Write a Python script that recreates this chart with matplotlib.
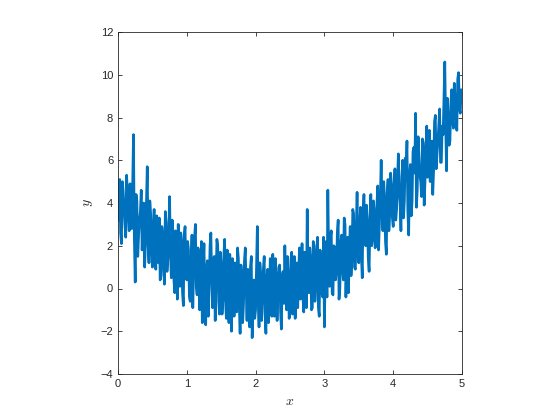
import numpy as np
import matplotlib
matplotlib.use('Agg')
import matplotlib.pyplot as plt

# y values at x = 0, 0.025, ..., 5 (10 per 0.25 step)
y_main = [3.2, 5.1, 2.1, 4.6, 3.0, 5.3, 3.4, 4.9, 2.8, 7.2,
          0.3, 4.1, 2.5, 3.6, 1.8, 4.0, 2.2, 5.7, 1.2, 3.5,
          1.0, 3.7, 0.9, 2.8, 3.3, 0.6, 2.5, 0.2, 3.1, 1.4,
          4.3, 0.5, 2.6, -0.2, 1.9, 3.0, 0.1, 2.2, -0.8, 2.9,
          0.4, 1.8, -0.6, 2.5, 0.9, 3.0, -0.3, 1.6, 0.2, -1.6,
          2.1, -1.7, 1.3, 0.0, 2.6, -0.9, 1.5, 0.3, 2.0, -1.2,
          1.1, -0.5, 2.3, -1.4, 0.8, 1.6, -2.0, 0.6, 1.2, -1.1,
          1.4, -2.1, 0.5, -0.7, 1.9, -1.5, 0.2, 1.0, -2.3, 0.4,
          -1.0, 2.9, -1.8, 0.6, -0.4, 1.5, -2.1, 0.9, -0.9, 0.2,
          1.6, -1.3, 0.4, -0.2, 1.1, -1.9, 0.8, 2.0, -1.0, 0.5,
          -0.8, 1.7, 0.1, -1.4, 1.2, 0.6, -0.5, 2.1, -1.1, 1.0,
          3.7, -0.2, 1.4, -0.9, 2.0, 0.3, 2.4, -1.3, 1.1, -0.4,
          -1.8, 2.2, 4.6, 0.1, 2.7, -0.3, 1.9, 0.8, 3.2, 0.0,
          2.5, 0.4, 3.0, 1.2, -0.2, 2.9, 1.4, 3.5, 0.9, 4.5,
          1.2, 3.8, 0.5, 4.4, 2.0, 3.3, 0.8, 4.4, 2.3, 3.6,
          2.4, 4.8, 3.0, 6.0, 2.7, 4.2, 1.6, 5.1, 3.5, 4.9,
          2.9, 5.6, 3.7, 6.3, 4.0, 5.2, 3.3, 6.1, 6.9, 2.5,
          5.8, 4.1, 6.6, 8.2, 4.6, 6.2, 5.0, 7.0, 3.9, 6.5,
          5.2, 7.4, 6.1, 4.4, 7.8, 5.6, 6.9, 8.4, 5.9, 7.2,
          10.6, 5.5, 8.0, 6.9, 9.3, 7.5, 8.8, 7.4, 10.1, 8.2,
          8.7]

# y values read at the in-between samples x = 0.0125, 0.0375, ..., 4.9875
y_mid = [4.4, 2.6, 5.0, 3.8, 2.4, 4.5, 2.7, 3.9, 4.8, 2.3,
         4.4, 1.5, 3.2, 4.6, 2.8, 1.0, 3.9, 2.0, 4.1, 1.7,
         3.0, 1.7, 3.4, 1.2, 0.4, 2.9, 1.1, 3.6, 0.8, 2.6,
         1.6, 3.2, 0.4, 2.7, -0.5, 1.3, 2.6, -0.2, 2.5, 0.6,
         2.2, -0.4, 1.2, -0.9, 2.4, 0.1, 1.9, -1.0, 2.2, 1.0,
         -0.6, 1.0, -1.3, 2.0, 0.5, 1.4, -1.5, 2.3, -0.6, 1.7,
         -1.2, 1.5, -0.6, 1.8, -1.6, 0.0, 1.4, -1.3, 0.1, 1.9,
         -0.8, 1.1, -1.6, 1.3, 0.0, 0.9, -1.8, 1.5, -0.2, -1.4,
         1.0, -0.6, 1.2, -1.5, 0.9, -1.2, 0.5, -1.6, 1.4, -1.3,
         -0.5, 1.4, -1.5, 1.0, -1.1, 0.6, -0.7, 0.2, 1.5, -1.4,
         1.3, -1.2, 1.5, 0.4, -0.9, 1.9, 0.0, -0.4, 1.7, -0.9,
         0.5, 1.9, -1.0, 2.2, -0.6, 1.7, -0.9, 1.8, -0.2, 2.4,
         0.9, -0.4, 1.6, 2.4, -0.2, 2.0, 0.4, 2.6, -0.5, 2.1,
         0.9, 3.3, -0.4, 2.4, 1.8, 0.6, 3.7, 1.0, 2.8, 1.6,
         2.9, 1.5, 3.6, 2.6, 3.9, 1.4, 3.0, 2.0, 4.1, 1.9,
         3.9, 1.8, 4.2, 3.6, 5.0, 2.2, 4.5, 2.7, 5.4, 3.3,
         4.8, 3.2, 5.1, 4.5, 2.7, 6.0, 4.1, 5.5, 3.6, 5.3,
         3.4, 6.4, 5.4, 3.8, 7.1, 5.3, 4.3, 6.8, 5.0, 7.6,
         6.6, 5.0, 6.9, 5.5, 8.1, 6.3, 7.7, 5.9, 7.6, 8.8,
         7.7, 8.9, 6.7, 8.6, 7.9, 9.6, 8.1, 9.8, 8.4, 9.3]

x = np.linspace(0, 5, 2 * len(y_mid) + 1)
y = np.empty(len(x))
y[0::2] = y_main
y[1::2] = y_mid

plt.rcParams['font.family'] = ['Liberation Sans', 'DejaVu Sans']
plt.rcParams['mathtext.fontset'] = 'cm'

fig = plt.figure(figsize=(5.6, 4.2), dpi=100)
ax = fig.add_axes([118 / 560, 46 / 420, 344 / 560, 342 / 420])

ax.plot(x, y, color='#0072BD', lw=1.9)

ax.set_xlim(0, 5)
ax.set_ylim(-4, 12)
ax.set_xticks(range(0, 6))
ax.set_yticks(range(-4, 13, 2))
ax.tick_params(direction='in', length=3, width=0.6, labelsize=8,
               colors='#262626', top=True, right=True,
               labeltop=False, labelright=False)
for s in ax.spines.values():
    s.set_linewidth(0.6)
    s.set_color('#262626')

ax.set_xlabel('$x$', fontsize=10, color='#262626')
ax.set_ylabel('$y$', fontsize=10, color='#262626')

fig.savefig('out.png', dpi=100)
